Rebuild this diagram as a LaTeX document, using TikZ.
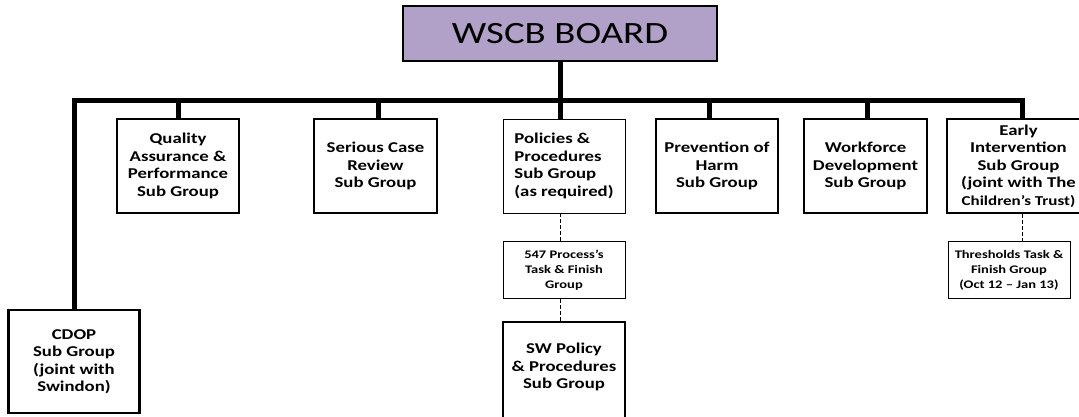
\documentclass[tikz,border=0pt]{standalone}
\usepackage{fontspec}
\setmainfont{Carlito}[FakeStretch=1.25]
\newfontfamily\boardfont{Carlito}[FakeStretch=1.25]
\begin{document}
\begin{tikzpicture}[x=1pt,y=-1pt,
  box/.style={draw=black, line width=2.6pt, fill=white, inner sep=0pt, align=center,
    font=\bfseries\fontsize{15}{17.5}\selectfont},
  thinbox/.style={draw=black, line width=0.9pt, fill=white, inner sep=0pt, align=center,
    font=\bfseries\fontsize{15}{17.5}\selectfont},
  smallbox/.style={draw=black, line width=0.9pt, fill=white, inner sep=0pt, align=center,
    font=\bfseries\fontsize{11.6}{15}\selectfont},
  conn/.style={line width=5pt, line join=miter},
  dashconn/.style={line width=0.7pt, dash pattern=on 4pt off 2pt}]
\useasboundingbox (0,0) rectangle (1079,416);
\fill[white] (0,0) rectangle (1079,416);
\begin{scope}
\clip (0,0) rectangle (1079,416);
% board
\node[draw=black, line width=2.6pt, fill={rgb,255:red,177;green,160;blue,199},
  minimum width=314pt, minimum height=55pt, inner sep=0pt,
  font=\boardfont\fontsize{31}{36}\selectfont] (board) at (560,33.5) {WSCB BOARD};
% level 1
\node[box, minimum width=122pt, minimum height=94pt] (qa) at (178,166)
  {Quality\\Assurance \&\\Performance\\Sub Group};
\node[box, minimum width=123pt, minimum height=94pt] (scr) at (375.5,166)
  {Serious Case\\Review\\Sub Group};
\node[thinbox, minimum width=122pt, minimum height=94pt, align=left] (pol) at (564,166)
  {Policies \&\\Procedures\\Sub Group\\(as required)};
\node[box, minimum width=122pt, minimum height=94pt] (prev) at (717,166)
  {Prevention of\\Harm\\Sub Group};
\node[box, minimum width=123pt, minimum height=94pt] (work) at (865.5,166)
  {Workforce\\Development\\Sub Group};
\node[box, minimum width=143pt, minimum height=94pt] (ei) at (1018.5,166)
  {Early\\Intervention\\Sub Group\\(joint with The\\{\fontsize{13.6}{17.5}\selectfont Children's Trust)}};
\node[box, minimum width=131pt, minimum height=103pt] (cdop) at (74,361.5)
  {CDOP\\Sub Group\\(joint with\\Swindon)};
% level 2
\node[smallbox, minimum width=122pt, minimum height=56.5pt] (p547) at (564,270)
  {547 Process's\\Task \& Finish\\Group};
\node[smallbox, minimum width=122pt, minimum height=56.5pt] (thr) at (1009,270)
  {Thresholds Task \&\\Finish Group\\(Oct 12 -- Jan 13)};
\node[draw=black, line width=2.6pt, fill=white, minimum width=122pt, minimum height=110pt,
  inner sep=0pt] (sw) at (564,377) {};
\node[align=center, inner sep=0pt, font=\bfseries\fontsize{15}{17.5}\selectfont] (swt) at (564,367)
  {SW Policy\\\& Procedures\\Sub Group};
% connectors
\coordinate (barR) at (1022,100.5);
\draw[conn] (cdop.north) |- (barR) -- (barR |- ei.north);
\draw[conn] (board.south) -- (board.south |- pol.north);
\draw[conn] (178,100.5) -- (qa.north);
\draw[conn] (378,100.5) -- (378,0 |- scr.north);
\draw[conn] (709,100.5) -- (709,0 |- prev.north);
\draw[conn] (867,100.5) -- (867,0 |- work.north);
\draw[dashconn] (board.south |- pol.south) -- (board.south |- p547.north);
\draw[dashconn] (board.south |- p547.south) -- (board.south |- sw.north);
\draw[dashconn] (barR |- ei.south) -- (barR |- thr.north);
\end{scope}
\end{tikzpicture}
\end{document}
